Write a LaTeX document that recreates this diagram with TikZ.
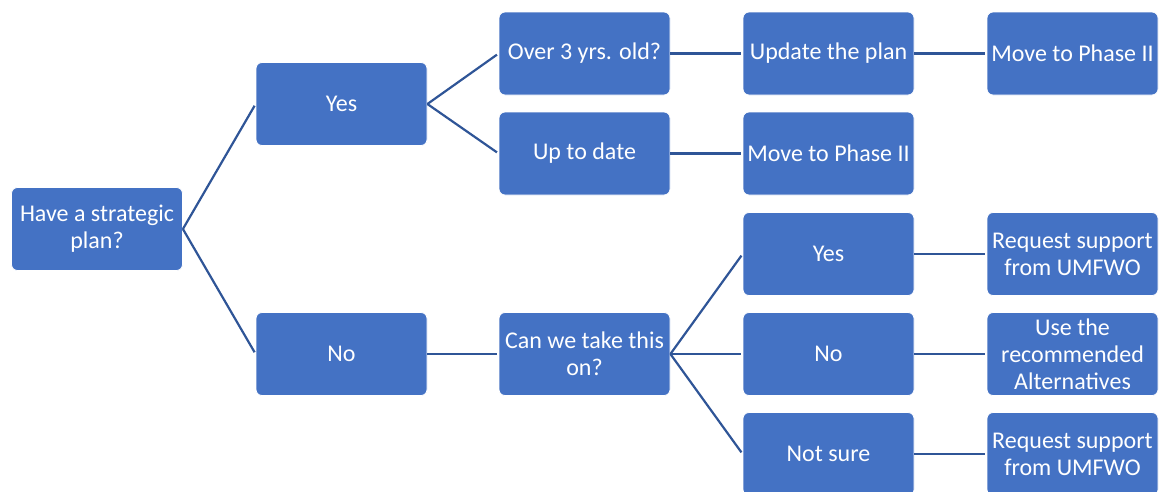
\documentclass[tikz,border=0pt]{standalone}
\usepackage{fontspec}
\setmainfont{Carlito}
\definecolor{boxblue}{HTML}{4472C4}
\definecolor{lineblue}{RGB}{47,85,151}
\begin{document}
\begin{tikzpicture}[x=1pt,y=-1pt,
  box/.style={draw=white,line width=0.8pt,fill=boxblue,rounded corners=6pt,
    minimum width=171pt,minimum height=83pt,inner sep=0pt,text=white,
    align=center,font=\fontsize{24}{27}\selectfont},
  conn/.style={draw=lineblue,line width=2.2pt,shorten >=2pt}]
\useasboundingbox (0,0) rectangle (1159,491);
\clip (0,0) rectangle (1159,491);
\node[box] (root) at (97,229) {Have a strategic\\plan?};
\node[box] (yes) at (341.5,104) {Yes};
\node[box] (no) at (341.5,354) {No};
\node[box] (over) at (584.5,53.5) {Over 3 yrs. old?};
\node[box] (upd) at (584.5,153.5) {Up to date};
\node[box] (can) at (584.5,354) {Can we take this\\on?};
\node[box] (update) at (828.5,53.5) {Update the plan};
\node[box] (moveb) at (828.5,153.5) {Move to Phase II};
\node[box] (yes2) at (828.5,254) {Yes};
\node[box] (no2) at (828.5,354) {No};
\node[box] (notsure) at (828.5,454) {Not sure};
\node[box] (movea) at (1072.5,53.5) {Move to Phase II};
\node[box] (req1) at (1072.5,254) {Request support\\from UMFWO};
\node[box] (use) at (1072.5,354) {Use the\\recommended\\Alternatives};
\node[box] (req2) at (1072.5,454) {Request support\\from UMFWO};
\draw[conn] (root.east) -- (yes.west);
\draw[conn] (root.east) -- (no.west);
\draw[conn] (yes.east) -- (over.west);
\draw[conn] (yes.east) -- (upd.west);
\draw[conn] (no.east) -- (can.west);
\draw[conn] (over.east) -- (update.west);
\draw[conn] (update.east) -- (movea.west);
\draw[conn] (upd.east) -- (moveb.west);
\draw[conn] (can.east) -- (yes2.west);
\draw[conn] (can.east) -- (no2.west);
\draw[conn] (can.east) -- (notsure.west);
\draw[conn] (yes2.east) -- (req1.west);
\draw[conn] (no2.east) -- (use.west);
\draw[conn] (notsure.east) -- (req2.west);
\end{tikzpicture}
\end{document}
